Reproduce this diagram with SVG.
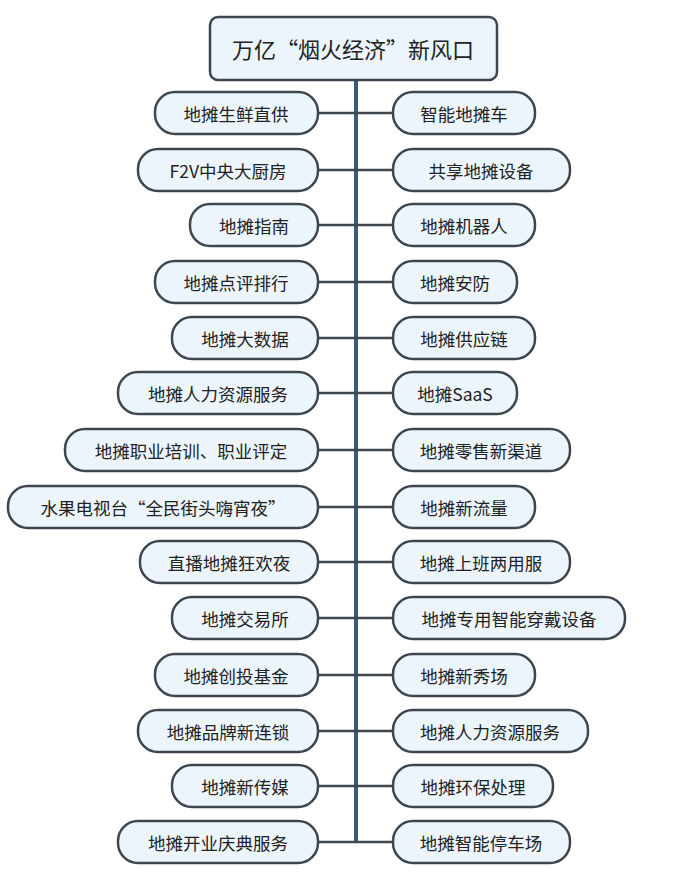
<svg xmlns="http://www.w3.org/2000/svg" width="690" height="872" viewBox="0 0 690 872">
<style>
.n{fill:#ecf5fb;stroke:#3e4750;stroke-width:2.5}
.t{font-family:"Noto Sans CJK SC","Liberation Sans",sans-serif;font-size:17.5px;fill:#222;text-anchor:middle;dominant-baseline:central}
.c{stroke:#3e4750;stroke-width:2.5;fill:none}
</style>
<rect width="690" height="872" fill="#fff"/>
<g id="connectors">
<line x1="356" y1="80" x2="356" y2="842" stroke="#3a5a7c" stroke-width="4"/>
<path class="c" d="M318 113H393M318 170H393M318 225H393M318 282H393M318 338H393M318 393H393M318 450H393M318 507H393M318 562H393M318 618H393M318 675H393M318 731H393M318 786H393M318 842H393"/>
</g>
<g id="root"><rect class="n" x="210" y="17" width="287" height="63" rx="8"/><text class="t" x="353" y="48" style="font-size:22px">万亿“烟火经济”新风口</text></g>
<g id="L1"><rect class="n" x="155" y="92" width="163" height="42" rx="20"/><text class="t" x="236" y="113">地摊生鲜直供</text></g>
<g id="L2"><rect class="n" x="138" y="149" width="180" height="42" rx="20"/><text class="t" x="228" y="170">F2V中央大厨房</text></g>
<g id="L3"><rect class="n" x="190" y="204" width="128" height="42" rx="20"/><text class="t" x="254" y="225">地摊指南</text></g>
<g id="L4"><rect class="n" x="155" y="261" width="163" height="42" rx="20"/><text class="t" x="236" y="282">地摊点评排行</text></g>
<g id="L5"><rect class="n" x="172" y="317" width="146" height="42" rx="20"/><text class="t" x="245" y="338">地摊大数据</text></g>
<g id="L6"><rect class="n" x="118" y="372" width="200" height="42" rx="20"/><text class="t" x="218" y="393">地摊人力资源服务</text></g>
<g id="L7"><rect class="n" x="65" y="429" width="253" height="42" rx="20"/><text class="t" x="191" y="450">地摊职业培训、职业评定</text></g>
<g id="L8"><rect class="n" x="8" y="486" width="310" height="42" rx="20"/><text class="t" x="163" y="507">水果电视台“全民街头嗨宵夜”</text></g>
<g id="L9"><rect class="n" x="140" y="541" width="178" height="42" rx="20"/><text class="t" x="229" y="562">直播地摊狂欢夜</text></g>
<g id="L10"><rect class="n" x="172" y="597" width="146" height="42" rx="20"/><text class="t" x="245" y="618">地摊交易所</text></g>
<g id="L11"><rect class="n" x="155" y="654" width="163" height="42" rx="20"/><text class="t" x="236" y="675">地摊创投基金</text></g>
<g id="L12"><rect class="n" x="138" y="710" width="180" height="42" rx="20"/><text class="t" x="228" y="731">地摊品牌新连锁</text></g>
<g id="L13"><rect class="n" x="172" y="765" width="146" height="42" rx="20"/><text class="t" x="245" y="786">地摊新传媒</text></g>
<g id="L14"><rect class="n" x="118" y="821" width="200" height="42" rx="20"/><text class="t" x="218" y="842">地摊开业庆典服务</text></g>
<g id="R1"><rect class="n" x="393" y="92" width="142" height="42" rx="20"/><text class="t" x="464" y="113">智能地摊车</text></g>
<g id="R2"><rect class="n" x="393" y="149" width="177" height="42" rx="20"/><text class="t" x="481" y="170">共享地摊设备</text></g>
<g id="R3"><rect class="n" x="393" y="204" width="142" height="42" rx="20"/><text class="t" x="464" y="225">地摊机器人</text></g>
<g id="R4"><rect class="n" x="393" y="261" width="124" height="42" rx="20"/><text class="t" x="455" y="282">地摊安防</text></g>
<g id="R5"><rect class="n" x="393" y="317" width="142" height="42" rx="20"/><text class="t" x="464" y="338">地摊供应链</text></g>
<g id="R6"><rect class="n" x="393" y="372" width="124" height="42" rx="20"/><text class="t" x="455" y="393">地摊SaaS</text></g>
<g id="R7"><rect class="n" x="393" y="429" width="177" height="42" rx="20"/><text class="t" x="481" y="450">地摊零售新渠道</text></g>
<g id="R8"><rect class="n" x="393" y="486" width="142" height="42" rx="20"/><text class="t" x="464" y="507">地摊新流量</text></g>
<g id="R9"><rect class="n" x="393" y="541" width="177" height="42" rx="20"/><text class="t" x="481" y="562">地摊上班两用服</text></g>
<g id="R10"><rect class="n" x="393" y="597" width="232" height="42" rx="20"/><text class="t" x="509" y="618">地摊专用智能穿戴设备</text></g>
<g id="R11"><rect class="n" x="393" y="654" width="142" height="42" rx="20"/><text class="t" x="464" y="675">地摊新秀场</text></g>
<g id="R12"><rect class="n" x="393" y="710" width="195" height="42" rx="20"/><text class="t" x="490" y="731">地摊人力资源服务</text></g>
<g id="R13"><rect class="n" x="393" y="765" width="160" height="42" rx="20"/><text class="t" x="473" y="786">地摊环保处理</text></g>
<g id="R14"><rect class="n" x="393" y="821" width="177" height="42" rx="20"/><text class="t" x="481" y="842">地摊智能停车场</text></g>
</svg>
